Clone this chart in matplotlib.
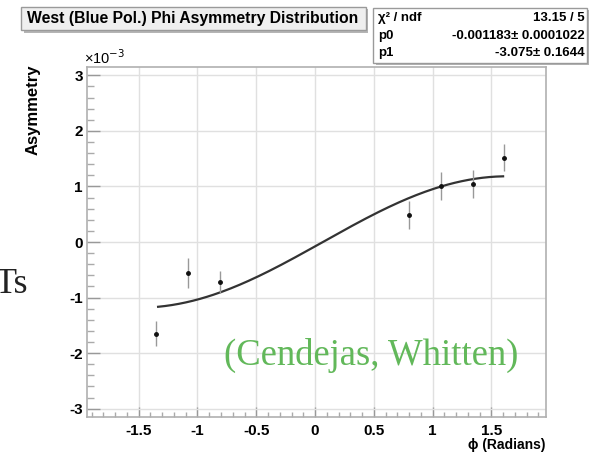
import numpy as np
import matplotlib
matplotlib.use("Agg")
import matplotlib.pyplot as plt
from matplotlib.patches import Rectangle
from matplotlib.ticker import MultipleLocator

# ---- data (asymmetry in units of 1e-3) ----
phi = [-1.352, -1.083, -0.81, 0.80, 1.07, 1.34, 1.61]
asym = [-1.65, -0.55, -0.72, 0.48, 1.01, 1.05, 1.52]
asym_err = [0.23, 0.27, 0.20, 0.25, 0.25, 0.25, 0.25]

# fit parameters (from stats box)
p0 = -0.001183
p1 = -3.075
fit_range = (-1.335, 1.60)

title = "West (Blue Pol.) Phi Asymmetry Distribution"
stats_rows = [("χ² / ndf", "13.15 / 5"),
              ("p0", "-0.001183± 0.0001022"),
              ("p1", "-3.075± 0.1644")]
xticks = [-1.5, -1, -0.5, 0, 0.5, 1, 1.5]
yticks = [-3, -2, -1, 0, 1, 2, 3]

W, H = 603, 454
fig = plt.figure(figsize=(W / 100, H / 100), dpi=100)
fig.patch.set_facecolor("white")

SANS = ["Liberation Sans", "DejaVu Sans"]
SERIF = ["Liberation Serif", "DejaVu Serif"]

def fx(px):
    return px / W

def fy(py):
    return 1 - py / H

ax = fig.add_axes([fx(87), fy(417), fx(546) - fx(87), fy(67) - fy(417)])
ax.set_xlim(-1.94, 1.965)
ax.set_ylim(-3.15, 3.15)

# grid
ax.set_xticks(xticks)
ax.set_yticks(yticks)
ax.xaxis.set_minor_locator(MultipleLocator(0.1))
ax.yaxis.set_minor_locator(MultipleLocator(0.2))
ax.grid(True, which="major", color="#e0e0e0", lw=1.0)
ax.set_axisbelow(True)

ax.set_xticklabels(["-1.5", "-1", "-0.5", "0", "0.5", "1", "1.5"])
ax.set_yticklabels([str(t) for t in yticks])
for lab in ax.get_xticklabels() + ax.get_yticklabels():
    lab.set_fontfamily(SANS)
    lab.set_fontweight("bold")
    lab.set_fontsize(11)

ax.tick_params(axis="y", which="major", direction="in", length=9.4, width=1, color="#999999", pad=3)
ax.tick_params(axis="y", which="minor", direction="in", length=5, width=1, color="#aaaaaa")
ax.tick_params(axis="x", which="major", direction="in", length=7, width=1, color="#999999", pad=5)
ax.tick_params(axis="x", which="minor", direction="in", length=3.6, width=1, color="#aaaaaa")
for s in ax.spines.values():
    s.set_color("#b0b0b0")
    s.set_linewidth(1.2)

# fit curve
xf = np.linspace(fit_range[0], fit_range[1], 200)
yf = p0 * np.sin(xf - p1) * 1e3
ax.plot(xf, yf, color="#333333", lw=1.6, zorder=3)

# data points
ax.errorbar(phi, asym, yerr=asym_err, fmt="o", ms=2.5, color="#111111",
            ecolor="#999999", elinewidth=1, capsize=0, zorder=4)

# axis labels
fig.text(fx(33), fy(110), "Asymmetry", rotation=90, ha="center", va="center",
         fontsize=12, fontweight="bold", family=SANS)
fig.text(fx(546), fy(445), "ϕ (Radians)", ha="right", va="center",
         fontsize=10, fontweight="bold", family=SANS)
fig.text(fx(84), fy(64), "×10$^{-3}$", ha="left", va="baseline",
         fontsize=10.5, family=SANS)

# title box
fig.patches.append(Rectangle((fx(24), fy(33)), fx(368) - fx(24), fy(9) - fy(33),
                             transform=fig.transFigure, facecolor="#b5b5b5",
                             edgecolor="none", zorder=1))
fig.patches.append(Rectangle((fx(21), fy(30)), fx(366) - fx(21), fy(7) - fy(30),
                             transform=fig.transFigure, facecolor="#efefef",
                             edgecolor="#9a9a9a", lw=1, zorder=2))
fig.text(fx(27), fy(19), title, ha="left", va="center", fontsize=11.3,
         fontweight="bold", family=SANS, zorder=3)

# stats box
fig.patches.append(Rectangle((fx(376), fy(65)), fx(589) - fx(376), fy(10) - fy(65),
                             transform=fig.transFigure, facecolor="#b5b5b5",
                             edgecolor="none", zorder=1))
fig.patches.append(Rectangle((fx(373), fy(63)), fx(587) - fx(373), fy(8) - fy(63),
                             transform=fig.transFigure, facecolor="white",
                             edgecolor="#9a9a9a", lw=1, zorder=2))
row_y = [18, 36, 53]
for (lab, val), ry in zip(stats_rows, row_y):
    fig.text(fx(378), fy(ry), lab, ha="left", va="center", fontsize=9.5,
             fontweight="bold", family=SANS, zorder=3)
    fig.text(fx(585), fy(ry), val, ha="right", va="center", fontsize=9.5,
             fontweight="bold", family=SANS, zorder=3)

# slide overlay texts
fig.text(fx(224), fy(355), "(Cendejas, Whitten)", ha="left", va="center",
         fontsize=26.4, color="#62b85a", family=SERIF)
fig.text(fx(28), fy(293), "Ts", ha="right", va="baseline",
         fontsize=26, color="#222222", family=SERIF)

fig.savefig("out.png", dpi=100, facecolor="white")
